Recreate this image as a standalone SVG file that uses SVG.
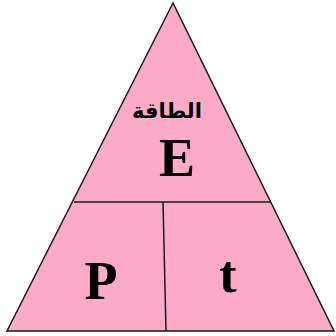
<svg xmlns="http://www.w3.org/2000/svg" width="336" height="336" viewBox="0 0 336 336">
<style>
.ln{stroke:#1a1a1a;stroke-width:1.5;fill:none}
.lbl{font-family:"Liberation Serif","Times New Roman",serif;font-weight:bold;fill:#000;text-anchor:middle}
.ar{font-family:"DejaVu Sans","Noto Sans",sans-serif;font-weight:bold;fill:#000;text-anchor:middle}
</style>
<rect width="336" height="336" fill="#fff"/>
<g id="triangle">
<polygon points="173,3 7,331 334,331" fill="#FBAAC8" stroke="#1a1a1a" stroke-width="1.5" stroke-linejoin="miter"/>
</g>
<g id="connectors">
<line class="ln" x1="74" y1="202" x2="270" y2="202"/>
<line class="ln" x1="163" y1="202" x2="166" y2="331"/>
</g>
<g id="node-energy">
<text class="ar" x="167" y="118" font-size="21" direction="rtl">الطاقة</text>
<text class="lbl" x="177" y="176" font-size="54">E</text>
</g>
<g id="node-power">
<text class="lbl" x="101" y="299" font-size="54">P</text>
</g>
<g id="node-time">
<text class="lbl" x="228" y="292" font-size="52">t</text>
</g>
</svg>
